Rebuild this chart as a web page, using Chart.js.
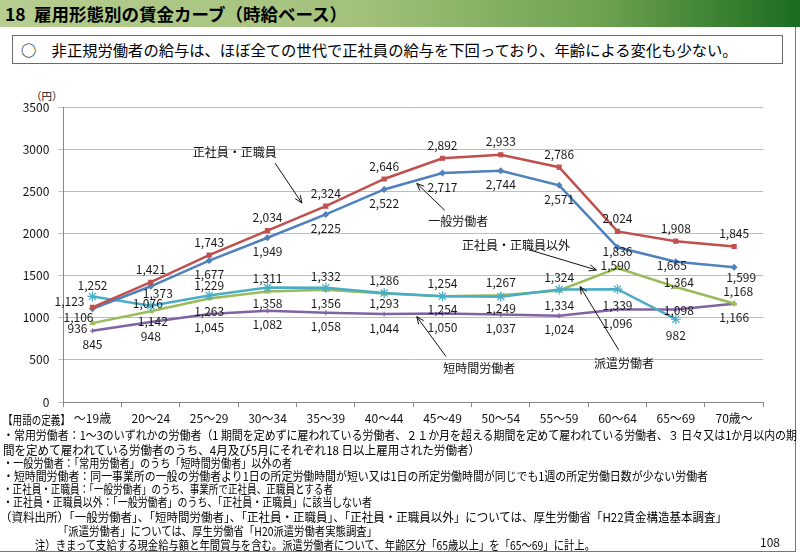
<!DOCTYPE html>
<html>
<head>
<meta charset="utf-8">
<script src="https://cdn.jsdelivr.net/npm/chart.js"></script>
<style>
body{margin:0;width:800px;height:554px;position:relative;overflow:hidden;background:#fff;font-family:"Noto Sans CJK JP",sans-serif;color:#111}
#bar{position:absolute;left:0;top:0;width:800px;height:27px;background:linear-gradient(to right,#b6ce90 0%,#a2c17b 45%,#6ea251 75%,#1b6c1f 100%)}
.t{position:absolute;top:1px;font-size:17.5px;font-weight:bold;line-height:25px;white-space:nowrap;color:#000}
#box{position:absolute;left:12px;top:35px;width:769px;height:27px;border:1px solid #6a6a6a}
#lead{position:absolute;left:21px;top:38px;font-size:15.3px;line-height:22px;white-space:nowrap;color:#000}
#frame{position:absolute;left:-3px;top:27px;width:798px;height:524px;border-right:1.5px solid #777;border-bottom:1.5px solid #777}
.n{position:absolute;font-size:12px;line-height:13px;white-space:nowrap;transform-origin:0 50%;color:#000}
#yen{position:absolute;left:31px;top:89px;font-size:10.5px;line-height:13px;white-space:nowrap}
#wrap{position:absolute;left:0;top:80px;width:800px;height:350px}
#page{position:absolute;left:760px;top:534px;font-size:12px;line-height:15px}
</style>
</head>
<body>
<div id="bar"></div>
<div class="t" style="left:5px">18</div>
<div class="t" style="left:34px" id="ttl">雇用形態別の賃金カーブ（時給ベース）</div>
<div id="frame"></div>
<div id="box"></div>
<div id="lead">○　非正規労働者の給与は、ほぼ全ての世代で正社員の給与を下回っており、年齢による変化も少ない。</div>
<div id="yen">（円）</div>
<div id="wrap"><canvas id="myChart" width="800" height="350"></canvas></div>

<div class="n" data-w="67" style="left:3px;top:413px">【用語の定義】</div>
<div class="n" data-w="794" style="left:3px;top:428px">・常用労働者：1～3のいずれかの労働者（1 期間を定めずに雇われている労働者、２１か月を超える期間を定めて雇われている労働者、３ 日々又は1か月以内の期</div>
<div class="n" data-w="477" style="left:3px;top:443px">間を定めて雇われている労働者のうち、4月及び5月にそれぞれ18 日以上雇用された労働者）</div>
<div class="n" data-w="289" style="left:3px;top:456px">・一般労働者：「常用労働者」のうち「短時間労働者」以外の者</div>
<div class="n" data-w="705" style="left:3px;top:469px">・短時間労働者：同一事業所の一般の労働者より1日の所定労働時間が短い又は1日の所定労働時間が同じでも1週の所定労働日数が少ない労働者</div>
<div class="n" data-w="330" style="left:3px;top:482px">・正社員・正職員：「一般労働者」のうち、事業所で正社員、正職員とする者</div>
<div class="n" data-w="369" style="left:3px;top:495px">・正社員・正職員以外：「一般労働者」のうち、「正社員・正職員」に該当しない者</div>
<div class="n" data-w="727" style="left:0px;top:510px">（資料出所）「一般労働者」、「短時間労働者」、「正社員・正職員」、「正社員・正職員以外」については、厚生労働省「H22賃金構造基本調査」</div>
<div class="n" data-w="319" style="left:58px;top:524px">「派遣労働者」については、厚生労働省「H20派遣労働者実態調査」</div>
<div class="n" data-w="560" style="left:35px;top:538px">注）きまって支給する現金給与額と年間賞与を含む。派遣労働者について、年齢区分「65歳以上」を「65～69」に計上。</div>
<div id="page">108</div>

<script>
// age groups and hourly wages (yen)
const ages = ['～19歳','20～24','25～29','30～34','35～39','40～44','45～49','50～54','55～59','60～64','65～69','70歳～'];
const seishain = [1123,1421,1743,2034,2324,2646,2892,2933,2786,2024,1908,1845];
const ippan = [1106,1373,1677,1949,2225,2522,2717,2744,2571,1836,1665,1599];
const haken = [1252,1142,1263,1358,1356,1293,1254,1249,1334,1339,982,null];
const seishainIgai = [936,1076,1229,1311,1332,1286,1254,1267,1324,1590,1364,1168];
const tanjikan = [845,948,1045,1082,1058,1044,1050,1037,1024,1096,1098,1166];
const yMin = 0, yMax = 3500, yStep = 500;

const FONT = '"Noto Sans CJK JP", sans-serif';

// where the value labels sit: default shift and a few hand-placed ones (px)
const labelPlace = [
  {d:[0,-13], o:{0:[-23,-6]}},
  {d:[0,14], o:{0:[-14,9],1:[7,7],9:[0,4],10:[-4,4],11:[7,10]}},
  {d:[0,16], o:{0:[0,-11],1:[2,16],5:[0,10],6:[0,13],7:[0,12]}},
  {d:[0,-13], o:{0:[-15,5],1:[-3,-8],9:[-2,-3],10:[3,-5],11:[4,-12]}},
  {d:[0,14], o:{10:[3,1]}}
];

// callouts, placed in category/value space
const callouts = [
  {text:'正社員・正職員', at:[2.44,2955], from:[3.13,2834], to:[3.59,2361]},
  {text:'一般労働者', at:[6.27,2138], from:[6.04,2274], to:[5.56,2593]},
  {text:'正社員・正職員以外', at:[7.26,1862], from:[7.5,1803], to:[8.64,1566]},
  {text:'派遣労働者', at:[9.11,461], from:[9.02,619], to:[8.36,1369]},
  {text:'短時間労働者', at:[6.63,402], from:[6.06,540], to:[5.56,1013]}
];

function arrow(ctx, x1, y1, x2, y2){
  var a = Math.atan2(y2-y1, x2-x1), h = 8;
  ctx.beginPath();
  ctx.moveTo(x1,y1); ctx.lineTo(x2,y2);
  ctx.moveTo(x2 - h*Math.cos(a-0.4), y2 - h*Math.sin(a-0.4));
  ctx.lineTo(x2,y2);
  ctx.lineTo(x2 - h*Math.cos(a+0.4), y2 - h*Math.sin(a+0.4));
  ctx.stroke();
}

const labelsPlugin = {
  id:'valueLabels',
  afterDatasetsDraw(chart){
    var ctx = chart.ctx;
    ctx.save();
    ctx.font = '12px ' + FONT;
    ctx.fillStyle = '#1a1a1a';
    ctx.textAlign = 'center';
    ctx.textBaseline = 'middle';
    chart.data.datasets.forEach(function(ds, di){
      var meta = chart.getDatasetMeta(di);
      var pl = labelPlace[di];
      meta.data.forEach(function(pt, i){
        var v = ds.data[i];
        if (v == null) return;
        var s = pl.o[i] || pl.d;
        ctx.fillText(v.toLocaleString('en-US'), pt.x + s[0], pt.y + s[1]);
      });
    });
    ctx.restore();
  },
  afterDraw(chart){
    var ctx = chart.ctx, xs = chart.scales.x, ys = chart.scales.y;
    var px = function(p){ return [xs.getPixelForValue(p[0]), ys.getPixelForValue(p[1])]; };
    ctx.save();
    ctx.strokeStyle = '#111';
    ctx.lineWidth = 1;
    ctx.fillStyle = '#111';
    ctx.font = '12px ' + FONT;
    ctx.textAlign = 'center';
    ctx.textBaseline = 'middle';
    callouts.forEach(function(c){
      var t = px(c.at), f = px(c.from), e = px(c.to);
      ctx.fillText(c.text, t[0], t[1]);
      arrow(ctx, f[0], f[1], e[0], e[1]);
    });
    ctx.restore();
  }
};

function line(label, data, color, style, radius){
  return {
    label: label, data: data,
    borderColor: color, backgroundColor: color,
    pointBackgroundColor: color, pointBorderColor: color,
    borderWidth: 2.5, pointStyle: style, pointRadius: radius,
    pointBorderWidth: 1.2, tension: 0, spanGaps: false
  };
}

var ctx = document.getElementById('myChart').getContext('2d');
var chart = new Chart(ctx, {
  type:'line',
  data:{
    labels: ages,
    datasets:[
      line('正社員・正職員', seishain, '#C0504D', 'rect', 2.8),
      line('一般労働者', ippan, '#4F81BD', 'rectRot', 2.6),
      line('派遣労働者', haken, '#4BACC6', 'star', 5),
      line('正社員・正職員以外', seishainIgai, '#9BBB59', 'triangle', 2.6),
      line('短時間労働者', tanjikan, '#8064A2', 'cross', 2.5)
    ]
  },
  options:{
    responsive:false,
    animation:false,
    devicePixelRatio:1,
    layout:{padding:{left:0,right:36.7,top:27,bottom:0}},
    plugins:{legend:{display:false}, tooltip:{enabled:false}},
    scales:{
      x:{
        offset:true,
        grid:{offset:true, drawOnChartArea:false, drawTicks:true, tickLength:5, color:'#888'},
        border:{color:'#888'},
        ticks:{font:{size:12,family:FONT}, color:'#111', padding:4, maxRotation:0, autoSkip:false},
        afterFit:function(s){ s.height = 28; }
      },
      y:{
        min:yMin, max:yMax,
        grid:{color:'#BDBDBD', tickLength:5, drawTicks:true},
        border:{color:'#888'},
        ticks:{stepSize:yStep, font:{size:12,family:FONT}, color:'#111', padding:9,
               callback:function(v){ return String(v); }},
        afterFit:function(s){ s.width = 63.3; }
      }
    }
  },
  plugins:[labelsPlugin]
});

// squeeze/stretch the note lines to the widths they have in the original
document.querySelectorAll('.n').forEach(function(el){
  var w = +el.getAttribute('data-w');
  var r = el.getBoundingClientRect().width;
  if (w && r) el.style.transform = 'scaleX(' + (w / r) + ')';
});
</script>
</body>
</html>
